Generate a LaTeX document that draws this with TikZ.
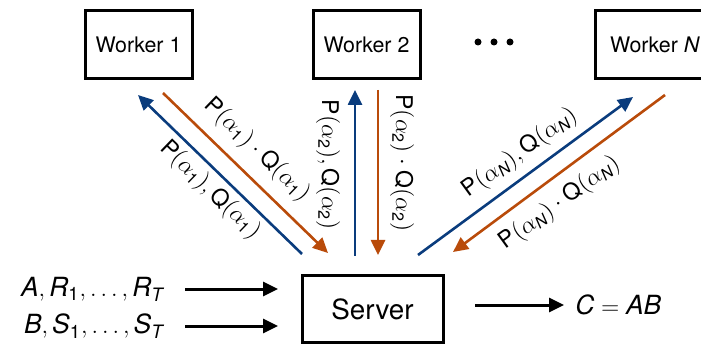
\documentclass[tikz,border=0pt]{standalone}
\usepackage{amsmath}
\usepackage{fontspec}
\setmainfont{TeX Gyre Heros}
\usetikzlibrary{arrows.meta}
\definecolor{ublue}{RGB}{10,60,125}
\definecolor{uorange}{RGB}{185,75,10}
\newcommand\tx[1]{\text{#1}}
\newcommand\ti[1]{\text{\itshape #1}}
\begin{document}
\begin{tikzpicture}[x=0.5pt, y=-0.5pt,
  box/.style={draw, line width=1.5pt, inner sep=0pt},
  worker/.style={box, minimum width=53.5pt, minimum height=34pt,
    font=\fontsize{10.7}{13}\selectfont},
  lbl/.style={inner sep=0pt, font=\fontsize{11.5}{14}\selectfont},
  iolbl/.style={inner sep=0pt, font=\fontsize{13.2}{16}\selectfont},
  upflow/.style={ublue, line width=1.3pt, -{Triangle[length=7.5pt,width=7pt]}},
  downflow/.style={uorange, line width=1.3pt, -{Triangle[length=7.5pt,width=7pt]}},
  feed/.style={black, line width=1.5pt, -{Triangle[length=7.5pt,width=7pt]}}]
\useasboundingbox (0,0) rectangle (701,347);
\clip (0,0) rectangle (701,347);

% workers and server
\node[worker] (w1) at (138.5,45) {Worker 1};
\node[worker] (w2) at (366.5,45) {Worker 2};
\node[worker, minimum width=60pt] (wn) at (655,45) {Worker \textit{N}};
\node[box, minimum width=70.5pt, minimum height=33pt,
  font=\fontsize{13.9}{16}\selectfont] (srv) at (372.5,309) {Server};

% ellipsis between the workers
\foreach \x in {478,494,510} \fill (\x,42) circle (3.5);

% connector end points
\coordinate (b1s) at (302,254); \coordinate (b1e) at (138,95);
\coordinate (o1s) at (163,93);  \coordinate (o1e) at (328,253);
\coordinate (b2s) at (355,256); \coordinate (b2e) at (355,90);
\coordinate (o2s) at (378,90);  \coordinate (o2e) at (378,255);
\coordinate (bns) at (418,255); \coordinate (bne) at (633,97);
\coordinate (ons) at (665,95);  \coordinate (one) at (453,252);

\draw[upflow] (b1s) -- (b1e);
\draw[downflow] (o1s) -- (o1e);
\draw[upflow] (b2s) -- (b2e);
\draw[downflow] (o2s) -- (o2e);
\draw[upflow] (bns) -- (bne);
\draw[downflow] (ons) -- (one);

% labels on the connectors
\node[lbl, rotate=-44] (l1a) at (257,150) {$\tx{P}(\alpha_{\tx{1}})\cdot\tx{Q}(\alpha_{\tx{1}})$};
\node[lbl, rotate=-44] (l1b) at (210,190) {$\tx{P}(\alpha_{\tx{1}}),\tx{Q}(\alpha_{\tx{1}})$};
\node[lbl, rotate=-90] (l2a) at (328,165) {$\tx{P}(\alpha_{\tx{2}}),\tx{Q}(\alpha_{\tx{2}})$};
\node[lbl, rotate=-90] (l2b) at (402,163) {$\tx{P}(\alpha_{\tx{2}})\cdot\tx{Q}(\alpha_{\tx{2}})$};
\node[lbl, rotate=36] (lna) at (520,153) {$\tx{P}(\alpha_{\ti{N}}),\tx{Q}(\alpha_{\ti{N}})$};
\node[lbl, rotate=36] (lnb) at (560,203) {$\tx{P}(\alpha_{\ti{N}})\cdot\tx{Q}(\alpha_{\ti{N}})$};

% inputs and output
\node[iolbl, anchor=east] (ina) at (164,289) {$\ti{A},\ti{R}_{\tx{1}},\ldots,\ti{R}_{\ti{T}}$};
\node[iolbl, anchor=east] (inb) at (164,326) {$\ti{B},\ti{S}_{\tx{1}},\ldots,\ti{S}_{\ti{T}}$};
\coordinate (fa) at (185,289); \coordinate (fae) at (278,289);
\coordinate (fb) at (185,326); \coordinate (fbe) at (278,326);
\draw[feed] (fa) -- (fae);
\draw[feed] (fb) -- (fbe);
\node[iolbl, anchor=west] (out) at (575,305) {$\ti{C}=\ti{AB}$};
\coordinate (fo) at (475,305); \coordinate (foe) at (564,305);
\draw[feed] (fo) -- (foe);
\end{tikzpicture}
\end{document}
